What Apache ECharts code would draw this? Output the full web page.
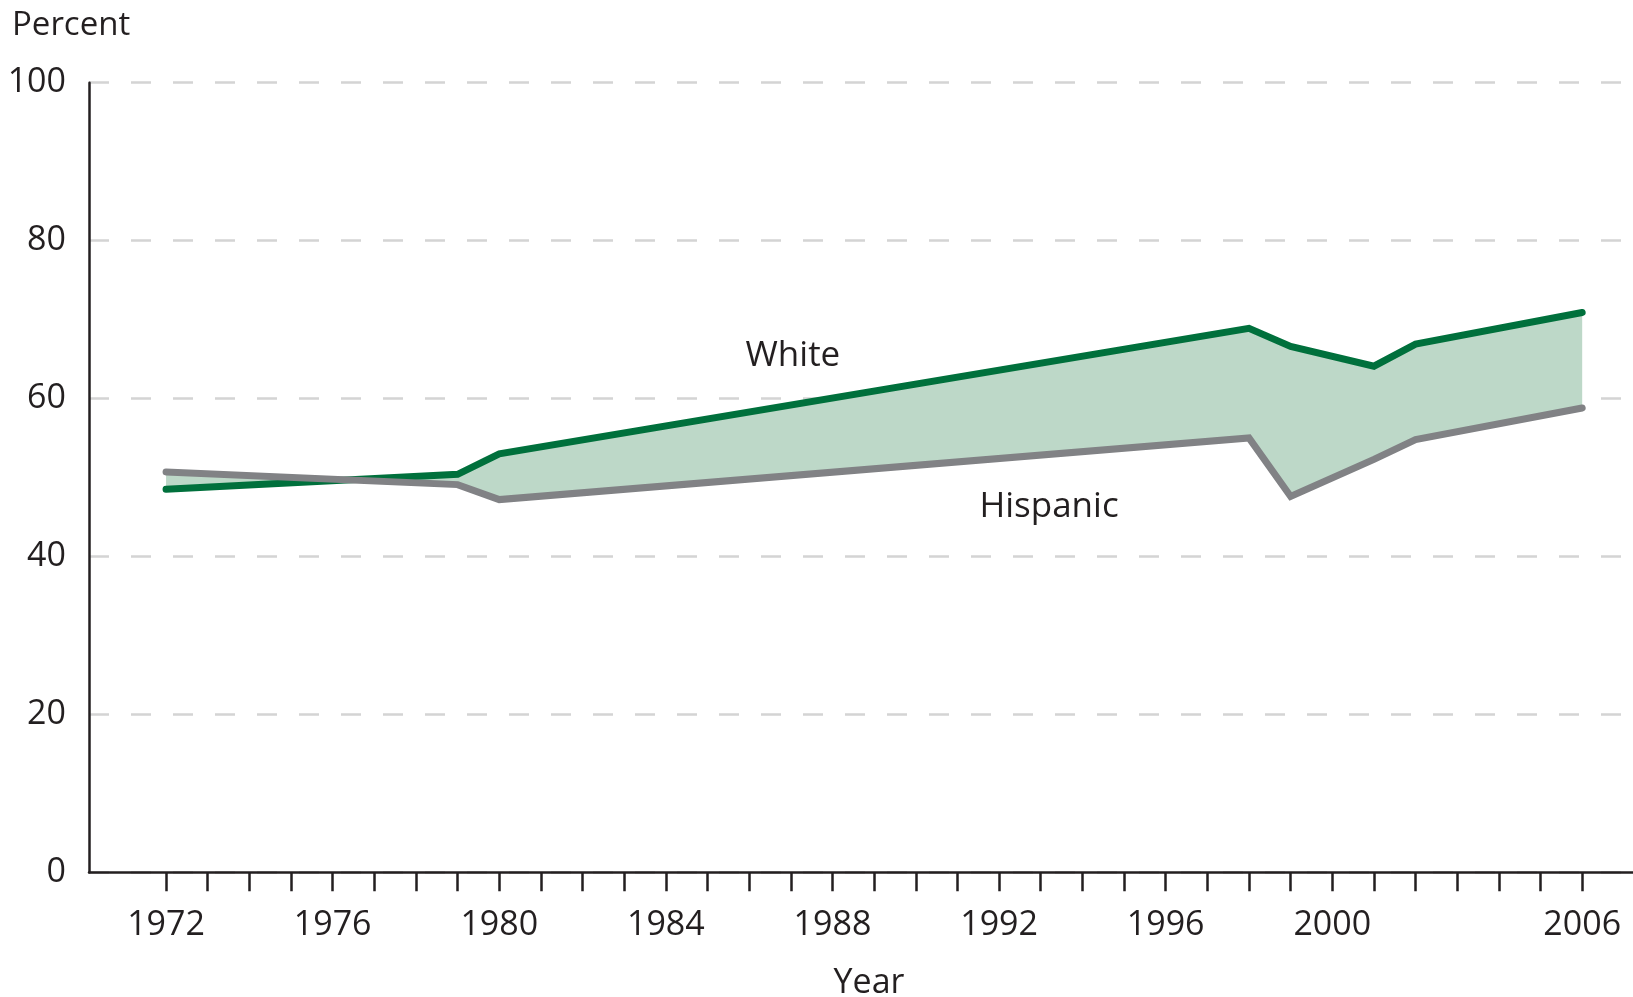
<!DOCTYPE html>
<html>
<head>
<meta charset="utf-8">
<script src="https://cdn.jsdelivr.net/npm/echarts@6/dist/echarts.min.js"></script>
<style>
  html, body { margin: 0; padding: 0; background: #fff; }
  #main { width: 1633px; height: 997px; }
</style>
</head>
<body>
<div id="main"></div>
<script>
// data
var years = [1972, 1979, 1980, 1998, 1999, 2001, 2002, 2006];
var white = [48.5, 50.4, 53.0, 68.9, 66.6, 64.1, 66.9, 70.9];
var hispanic = [50.7, 49.1, 47.2, 55.0, 47.6, 52.3, 54.8, 58.8];

var tickYears = [];
for (var y = 1972; y <= 2006; y++) tickYears.push(y);
var labelYears = [1972, 1976, 1980, 1984, 1988, 1992, 1996, 2000, 2006];

var font = "'Open Sans', 'Noto Sans', sans-serif";
var ink = '#231f20';

function pairs(xs, vs) {
    return xs.map(function (x, i) { return [x, vs[i]]; });
}

var chart = echarts.init(document.getElementById('main'));

var option = {
    animation: false,
    grid: { left: 89, right: 0, top: 82.7, bottom: 124.7, containLabel: false },
    xAxis: {
        type: 'value',
        min: 1970.15,
        max: 2007.22,
        axisLine: { show: true, lineStyle: { color: ink, width: 2.5 } },
        axisTick: { show: true, length: 19, lineStyle: { color: ink, width: 2.5 }, customValues: tickYears },
        axisLabel: {
            customValues: labelYears,
            margin: 36,
            fontFamily: font, fontSize: 34, color: ink,
            formatter: function (v) { return String(v); }
        },
        splitLine: { show: false }
    },
    yAxis: {
        type: 'value',
        min: 0,
        max: 100,
        interval: 20,
        axisLine: { show: true, lineStyle: { color: ink, width: 2.5 } },
        axisTick: { show: false },
        axisLabel: { margin: 23, fontFamily: font, fontSize: 34, color: ink },
        splitLine: { show: true, lineStyle: { color: '#d4d4d4', width: 2.5, type: [20, 22] } }
    },
    series: [
        {
            type: 'custom',
            silent: true,
            z: 1,
            data: [[years[0], white[0]]],
            renderItem: function (params, api) {
                var pts = [];
                for (var i = 0; i < years.length; i++) pts.push(api.coord([years[i], white[i]]));
                for (var j = years.length - 1; j >= 0; j--) pts.push(api.coord([years[j], hispanic[j]]));
                return { type: 'polygon', shape: { points: pts }, style: { fill: '#bdd8c8' } };
            }
        },
        {
            name: 'White',
            type: 'line',
            z: 3,
            showSymbol: false,
            data: pairs(years, white),
            lineStyle: { color: '#00703c', width: 7, cap: 'round', join: 'miter' }
        },
        {
            name: 'Hispanic',
            type: 'line',
            z: 4,
            showSymbol: false,
            data: pairs(years, hispanic),
            lineStyle: { color: '#818285', width: 7, cap: 'round', join: 'miter' }
        }
    ]
};
chart.setOption(option);

// text annotations anchored in data space
var wPos = chart.convertToPixel({ gridIndex: 0 }, [1987.05, 65.4]);
var hPos = chart.convertToPixel({ gridIndex: 0 }, [1993.2, 46.3]);
chart.setOption({
    graphic: [
        { type: 'text', left: 12, top: 9, style: { text: 'Percent', font: '33px ' + font, fill: ink } },
        { type: 'text', x: 869, y: 983, style: { text: 'Year', font: '34px ' + font, fill: ink, align: 'center', verticalAlign: 'middle' } },
        { type: 'text', x: wPos[0], y: wPos[1], style: { text: 'White', font: '35px ' + font, fill: ink, align: 'center', verticalAlign: 'middle' } },
        { type: 'text', x: hPos[0], y: hPos[1], style: { text: 'Hispanic', font: '35px ' + font, fill: ink, align: 'center', verticalAlign: 'middle' } }
    ]
});
</script>
</body>
</html>
